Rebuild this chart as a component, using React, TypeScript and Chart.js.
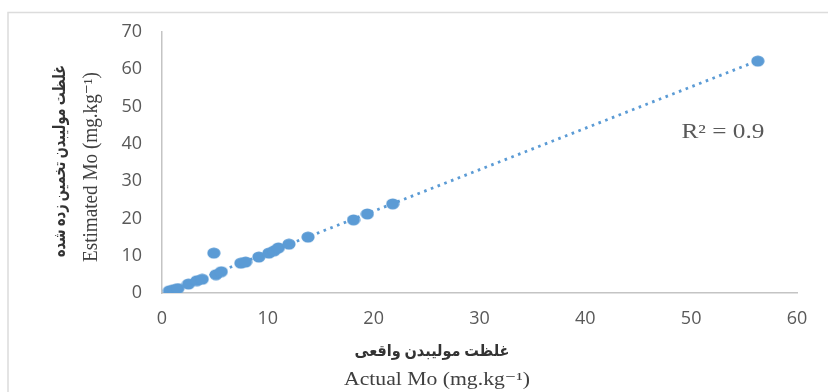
import React, { useEffect, useRef } from "react";
import { Chart, registerables } from "chart.js";

Chart.register(...registerables);

// Actual Mo (x) and Estimated Mo (y), mg.kg-1
const actualMo = [0.7, 1.1, 1.5, 2.5, 3.3, 3.8, 4.9, 5.1, 5.6, 7.45, 7.9, 9.15, 10.1, 10.6, 11.0, 12.0, 13.8, 18.1, 19.4, 21.8, 56.3];
const estimatedMo = [0.6, 0.9, 1.2, 2.4, 3.3, 3.7, 10.7, 4.9, 5.7, 8.0, 8.3, 9.65, 10.7, 11.3, 12.1, 13.1, 15.0, 19.6, 21.2, 23.9, 62.2];

// Linear trend line endpoints
const trendX = [0.7, 56.3];
const trendY = [0.5, 62.3];

const xTicks = [0, 10, 20, 30, 40, 50, 60];
const yTicks = [0, 10, 20, 30, 40, 50, 60, 70];

const rSquaredLabel = "R² = 0.9";
const xTitleFa = "غلظت مولیبدن واقعی";
const xTitleEn = "Actual Mo (mg.kg⁻¹)";
const yTitleFa = "غلظت مولیبدن تخمین زده شده";
const yTitleEn = "Estimated Mo (mg.kg⁻¹)";

const BLUE = "#5b9bd5";
const TICK_GREY = "#595959";
const AXIS_GREY = "#c4c4c4";

function makeDot(): HTMLCanvasElement {
  const c = document.createElement("canvas");
  c.width = 14;
  c.height = 12;
  const g = c.getContext("2d")!;
  g.fillStyle = BLUE;
  g.beginPath();
  g.ellipse(7, 6, 6.6, 5.5, 0, 0, Math.PI * 2);
  g.fill();
  return c;
}

function fitText(
  ctx: CanvasRenderingContext2D,
  text: string,
  cx: number,
  cy: number,
  len: number,
  font: string,
  color: string,
  rotate: boolean
) {
  ctx.save();
  ctx.font = font;
  ctx.fillStyle = color;
  ctx.textAlign = "center";
  ctx.textBaseline = "middle";
  const w = ctx.measureText(text).width || 1;
  ctx.translate(cx, cy);
  if (rotate) ctx.rotate(-Math.PI / 2);
  ctx.scale(len / w, 1);
  ctx.fillText(text, 0, 0);
  ctx.restore();
}

const SERIF = "'Liberation Serif', 'DejaVu Serif', serif";
const FA = "'Liberation Serif', 'DejaVu Sans', 'Noto Sans', serif";

const decorPlugin = {
  id: "decor",
  beforeDraw(chart: any) {
    const ctx = chart.ctx as CanvasRenderingContext2D;
    ctx.save();
    ctx.strokeStyle = "#dcdcdc";
    ctx.lineWidth = 1.5;
    ctx.beginPath();
    ctx.moveTo(8, 392);
    ctx.lineTo(8, 12.5);
    ctx.lineTo(828, 12.5);
    ctx.stroke();
    ctx.restore();
  },
  afterDraw(chart: any) {
    const ctx = chart.ctx as CanvasRenderingContext2D;
    const xs = chart.scales.x;
    const ys = chart.scales.y;
    // axis titles
    fitText(ctx, xTitleFa, 432, 352, 155, `600 16px ${FA}`, "#333333", false);
    fitText(ctx, xTitleEn, 437, 380, 186, `18px ${SERIF}`, "#404040", false);
    fitText(ctx, yTitleFa, 61, 161, 192, `600 17px ${FA}`, "#333333", true);
    fitText(ctx, yTitleEn, 92, 167, 190, `20px ${SERIF}`, "#404040", true);
    // R² label
    fitText(
      ctx,
      rSquaredLabel,
      xs.getPixelForValue(53.0),
      ys.getPixelForValue(43.0),
      83,
      `20px ${SERIF}`,
      TICK_GREY,
      false
    );
  },
};

export default function App() {
  const ref = useRef<HTMLCanvasElement | null>(null);

  useEffect(() => {
    if (!ref.current) return;
    const dot = makeDot();
    const chart = new Chart(ref.current, {
      type: "scatter",
      data: {
        datasets: [
          {
            label: "Mo",
            data: actualMo.map((x, i) => ({ x, y: estimatedMo[i] })),
            pointStyle: dot as any,
            pointRadius: 7,
            backgroundColor: BLUE,
            borderColor: BLUE,
          },
          {
            label: "Linear",
            data: trendX.map((x, i) => ({ x, y: trendY[i] })),
            showLine: true,
            pointRadius: 0,
            borderColor: BLUE,
            borderWidth: 2.8,
            borderDash: [2.6, 4.6],
            fill: false,
          } as any,
        ],
      },
      options: {
        responsive: false,
        animation: false,
        layout: { padding: { left: 0, right: 31, top: 32, bottom: 0 } },
        plugins: {
          legend: { display: false },
          tooltip: { enabled: false },
          title: { display: false },
        },
        scales: {
          x: {
            type: "linear",
            min: 0,
            max: 60,
            afterFit: (s: any) => {
              s.height = 99;
            },
            afterBuildTicks: (s: any) => {
              s.ticks = xTicks.map((v) => ({ value: v }));
            },
            grid: { display: false, drawTicks: false },
            border: { display: true, color: AXIS_GREY, width: 1.5 },
            ticks: {
              padding: 15,
              color: TICK_GREY,
              font: { family: "'Open Sans', sans-serif", size: 18 },
            },
          },
          y: {
            type: "linear",
            min: 0,
            max: 70,
            afterFit: (s: any) => {
              s.width = 162;
            },
            afterBuildTicks: (s: any) => {
              s.ticks = yTicks.map((v) => ({ value: v }));
            },
            grid: { display: false, drawTicks: false },
            border: { display: true, color: AXIS_GREY, width: 1.5 },
            ticks: {
              padding: 20,
              color: TICK_GREY,
              font: { family: "'Open Sans', sans-serif", size: 18 },
            },
          },
        },
      },
      plugins: [decorPlugin],
    });
    return () => chart.destroy();
  }, []);

  return (
    <div style={{ position: "absolute", left: 0, top: 0, width: 828, height: 392, background: "#fff" }}>
      <canvas ref={ref} width={828} height={392} style={{ display: "block" }} />
    </div>
  );
}
